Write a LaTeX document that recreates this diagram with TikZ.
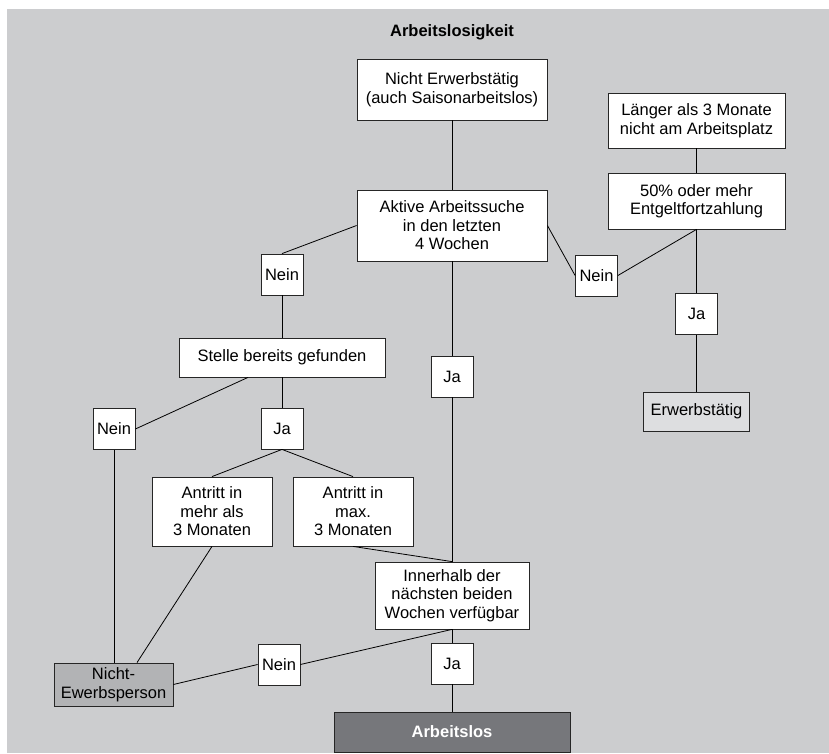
\documentclass[tikz,border=0pt]{standalone}
\usepackage{fontspec}
\setmainfont{Liberation Sans}
\usepackage{xcolor}
\usetikzlibrary{positioning}

\definecolor{bggray}{RGB}{204,205,207}
\definecolor{midgray}{RGB}{178,179,181}
\definecolor{lightgray}{RGB}{221,222,224}
\definecolor{darkgray}{RGB}{118,119,123}

\begin{document}
\begin{tikzpicture}[x=1pt, y=1pt,
    every node/.style={font=\fontsize{16.5}{18.5}\selectfont},
    box/.style={draw=black!85, line width=0.8pt, fill=white, align=center, inner sep=0pt},
    answer/.style={box, minimum width=42, minimum height=41},
    link/.style={line width=0.8pt}]
  \useasboundingbox (0,0) rectangle (829,753);
  \fill[bggray] (7,0) rectangle (829,744);

  \node[font=\fontsize{16.5}{18.5}\selectfont\bfseries] (T) at (452,721) {Arbeitslosigkeit};

  \node[box, minimum width=190, minimum height=61] (NE) at (452,663.5) {Nicht Erwerbstätig\\(auch Saisonarbeitslos)};
  \node[box, minimum width=190, minimum height=71] (AS) at (452,527.5) {Aktive Arbeitssuche\\in den letzten\\4 Wochen};
  \node[box, minimum width=177, minimum height=55] (L3) at (696.5,632.5) {Länger als 3 Monate\\nicht am Arbeitsplatz};
  \node[box, minimum width=177, minimum height=56] (EF) at (696.5,552) {50\% oder mehr\\Entgeltfortzahlung};
  \node[answer] (N1) at (596.5,477.5) {Nein};
  \node[answer] (J1) at (696.5,439) {Ja};
  \node[box, fill=lightgray, minimum width=106, minimum height=39] (ET) at (696.5,341.5) {Erwerbstätig};

  \node[answer] (N2) at (282,478.5) {Nein};
  \node[answer] (J2) at (452,376.5) {Ja};
  \node[box, minimum width=206, minimum height=39] (SG) at (282,395.5) {Stelle bereits gefunden};
  \node[answer] (N3) at (114,324) {Nein};
  \node[answer] (J3) at (282,324.5) {Ja};
  \node[box, minimum width=120, minimum height=69] (A1) at (212,241.5) {Antritt in\\mehr als\\3 Monaten};
  \node[box, minimum width=120, minimum height=69] (A2) at (353,241.5) {Antritt in\\max.\\3 Monaten};
  \node[box, minimum width=154, minimum height=67] (IV) at (452,157.5) {Innerhalb der\\nächsten beiden\\Wochen verfügbar};
  \node[box, fill=midgray, minimum width=119, minimum height=43] (NP) at (113.5,68.5) {Nicht-\\Ewerbsperson};
  \node[answer] (N4) at (279,88.5) {Nein};
  \node[answer] (J4) at (452,89.5) {Ja};
  \node[box, fill=darkgray, text=white, font=\fontsize{16.5}{18.5}\selectfont\bfseries,
        minimum width=236, minimum height=40] (AL) at (452,21) {Arbeitslos};

  % main column
  \draw[link] (NE) -- (AS);
  \draw[link] (AS) -- (J2);
  \draw[link] (J2) -- (IV);
  \draw[link] (IV) -- (J4);
  \draw[link] (J4) -- (AL);

  % right branch
  \draw[link] (AS.east) -- (N1.west);
  \draw[link] (N1.east) -- (EF.south);
  \draw[link] (L3) -- (EF);
  \draw[link] (EF) -- (J1);
  \draw[link] (J1) -- (ET);

  % left branch
  \draw[link] (AS.west) -- (N2.north);
  \draw[link] (N2) -- (SG);
  \draw[link] ([xshift=-34]SG.south) -- (N3.east);
  \draw[link] (SG) -- (J3);
  \draw[link] (J3.south) -- (A1.north);
  \draw[link] (J3.south) -- (A2.north);
  \draw[link] (N3.south) -- (N3.south |- NP.north);
  \draw[link] (A1.south) -- ([xshift=23.5]NP.north);
  \draw[link] (A2.south) -- (IV.north);
  \draw[link] (IV.south) -- (N4.east);
  \draw[link] (N4.west) -- (NP.east);
\end{tikzpicture}
\end{document}
